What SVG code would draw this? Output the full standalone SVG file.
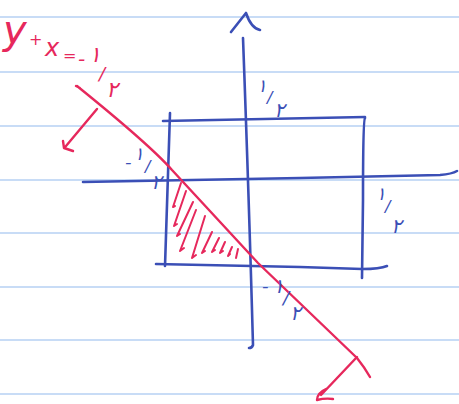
<svg xmlns="http://www.w3.org/2000/svg" width="459" height="404" viewBox="0 0 459 404">
<style>
.paper{stroke:#c8dcf6;stroke-width:2;fill:none}
.blue{stroke:#3b4fb6;stroke-width:2.6;fill:none;stroke-linecap:round;stroke-linejoin:round}
.red{stroke:#e6285c;stroke-width:2.4;fill:none;stroke-linecap:round;stroke-linejoin:round}
.hatch{stroke:#e6285c;stroke-width:2;fill:none;stroke-linecap:round;stroke-linejoin:round}
.tb{fill:#3b4fb6;font-family:"DejaVu Sans",sans-serif;font-style:italic}
.tr{fill:#e6285c;font-family:"DejaVu Sans",sans-serif;font-style:italic}
</style>
<rect width="459" height="404" fill="#ffffff"/>
<g id="paper">
<line class="paper" x1="0" y1="17" x2="459" y2="17"/>
<line class="paper" x1="0" y1="72" x2="459" y2="72"/>
<line class="paper" x1="0" y1="126" x2="459" y2="126"/>
<line class="paper" x1="0" y1="180" x2="459" y2="180"/>
<line class="paper" x1="0" y1="233" x2="459" y2="233"/>
<line class="paper" x1="0" y1="287" x2="459" y2="287"/>
<line class="paper" x1="0" y1="340" x2="459" y2="340"/>
<line class="paper" x1="0" y1="394" x2="459" y2="394"/>
</g>
<g id="hatching">
<path class="hatch" d="M181,183 L173,207 l2,-1"/>
<path class="hatch" d="M186,191 L174,226 l3,-2"/>
<path class="hatch" d="M193,202 L177,236 l3,-2"/>
<path class="hatch" d="M196,210 L180,251 l4,-3"/>
<path class="hatch" d="M205,216 L192,258 l4,-3"/>
<path class="hatch" d="M212,232 L202,253 l3,-2"/>
<path class="hatch" d="M219,238 L212,252 l3,-2"/>
<path class="hatch" d="M225,242 L220,253 l3,-2"/>
<path class="hatch" d="M232,247 L228,256 l2,-2"/>
<path class="hatch" d="M238,249 L236,258"/>
</g>
<g id="axes">
<path id="y-axis" class="blue" d="M243,38 Q249,200 253,345 Q252,348 249,348"/>
<path id="y-arrow" class="blue" d="M231,32 L246,13 Q251,28 260,30"/>
<path id="x-axis" class="blue" d="M83,182 L300,178 L440,175 Q452,174 457,171"/>
</g>
<g id="square">
<path class="blue" d="M163,121 L365,117"/>
<path class="blue" d="M365,118 Q363,120 363,200 L362,278"/>
<path class="blue" d="M170,113 L165,266"/>
<path class="blue" d="M156,264 L300,267 L362,269 Q380,269 387,266"/>
</g>
<g id="line">
<path class="red" d="M76,86 L80,88 M77,86 Q150,145 172,170 L258,263 L357,358 Q365,368 370,377"/>
<path class="red" d="M97,109 L66,146 M63,141 L64,148 L73,151"/>
<path class="red" d="M357,357 L321,395 M326,389 Q317,393 317,400 Q325,398 333,399"/>
</g>
<g id="labels">
<text class="tr"><tspan x="3" y="44" font-size="40">y</tspan><tspan x="29" y="45" font-size="16">+</tspan><tspan x="45" y="56" font-size="24">x</tspan><tspan x="63" y="61" font-size="16">=</tspan><tspan x="78" y="66" font-size="20">-</tspan><tspan x="89" y="62" font-size="22">۱</tspan><tspan x="99" y="80" font-size="18">/</tspan><tspan x="106" y="97" font-size="22">۲</tspan></text>
<text class="tb"><tspan x="257" y="92" font-size="18">۱</tspan><tspan x="267" y="103" font-size="16">/</tspan><tspan x="274" y="117" font-size="20">۲</tspan></text>
<text class="tb"><tspan x="376" y="200" font-size="18">۱</tspan><tspan x="385" y="212" font-size="16">/</tspan><tspan x="391" y="233" font-size="20">۲</tspan></text>
<text class="tb"><tspan x="125" y="168" font-size="18">-</tspan><tspan x="134" y="160" font-size="18">۱</tspan><tspan x="145" y="172" font-size="16">/</tspan><tspan x="151" y="189" font-size="20">۲</tspan></text>
<text class="tb"><tspan x="262" y="292" font-size="18">-</tspan><tspan x="273" y="293" font-size="20">۱</tspan><tspan x="283" y="304" font-size="18">/</tspan><tspan x="290" y="320" font-size="20">۲</tspan></text>
</g>
</svg>
